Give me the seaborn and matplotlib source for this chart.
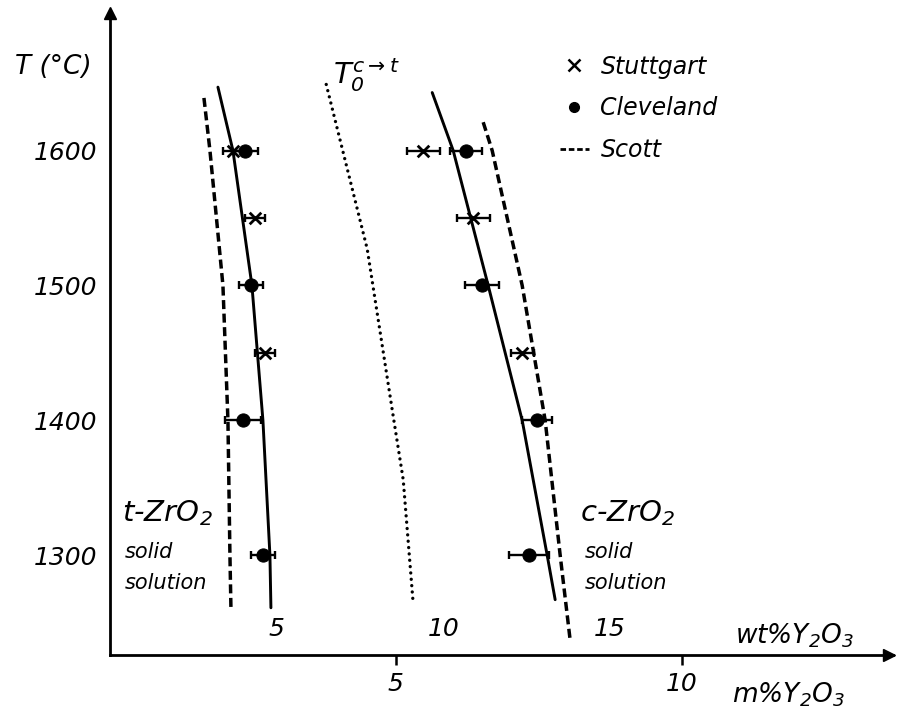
import numpy as np
import pandas as pd
import matplotlib
matplotlib.use("Agg")
import matplotlib.pyplot as plt
from matplotlib.lines import Line2D
import seaborn as sns

# ---------------------------------------------------------------------------
# data (x in wt% Y2O3, y in degC)
# ---------------------------------------------------------------------------
T_T_LINE = [1647, 1600, 1500, 1400, 1300, 1261]
WT_T_LINE = [3.24, 3.69, 4.26, 4.59, 4.80, 4.83]

T_T_SCOTT = [1639, 1600, 1500, 1400, 1300, 1261]
WT_T_SCOTT = [2.82, 3.00, 3.39, 3.54, 3.60, 3.63]

T_T0 = [1649, 1527, 1403, 1356, 1264]
WT_T0 = [6.49, 7.72, 8.50, 8.80, 9.10]

T_C_LINE = [1643, 1600, 1500, 1400, 1300, 1267]
WT_C_LINE = [9.67, 10.30, 11.35, 12.37, 13.12, 13.36]

T_C_SCOTT = [1621, 1600, 1500, 1400, 1300, 1237]
WT_C_SCOTT = [11.20, 11.47, 12.37, 13.06, 13.51, 13.81]

T_STUTT = [1600, 1550, 1450, 1600, 1550, 1450]
WT_STUTT = [3.69, 4.35, 4.65, 9.40, 10.90, 12.37]
ERR_STUTT = [0.30, 0.30, 0.30, 0.50, 0.50, 0.35]

T_CLEV = [1600, 1500, 1400, 1300, 1600, 1500, 1400, 1300]
WT_CLEV = [4.05, 4.23, 3.99, 4.59, 10.69, 11.17, 12.82, 12.58]
ERR_CLEV = [0.40, 0.36, 0.54, 0.36, 0.48, 0.51, 0.45, 0.60]

T_TICKS = [1300, 1400, 1500, 1600]
WT_TICKS = [5, 10, 15]
M_TICKS = [5, 10]
WT_PER_M = 1.716   # wt% per mol% on this axis

sns.set_style("white")
plt.rcParams.update({
    "font.family": ["DejaVu Sans"],
    "font.style": "italic",
    "mathtext.fontset": "dejavusans",
    "mathtext.default": "it",
    "axes.linewidth": 2.0,
    "axes.edgecolor": "black",
    "text.color": "black",
    "axes.labelcolor": "black",
    "xtick.color": "black",
    "ytick.color": "black",
})

fig = plt.figure(figsize=(8.97, 7.2), dpi=100)
ax = fig.add_axes([0.1226, 0.0903, 0.873, 0.8917])

# boundary curves
dash = (0, (2.6, 1.3))
for wt, t, ls, lw in [(WT_T_LINE, T_T_LINE, "-", 2.1),
                      (WT_C_LINE, T_C_LINE, "-", 2.1),
                      (WT_T_SCOTT, T_T_SCOTT, dash, 2.5),
                      (WT_C_SCOTT, T_C_SCOTT, dash, 2.5)]:
    sns.lineplot(x=wt, y=t, sort=False, estimator=None, color="black",
                 linewidth=lw, linestyle=ls, ax=ax)
sns.lineplot(x=WT_T0, y=T_T0, sort=False, estimator=None, color="black",
             linewidth=2.4, linestyle=(0, (0.01, 1.9)), dash_capstyle="round", ax=ax)

# measured points with error bars
ax.errorbar(WT_STUTT, T_STUTT, xerr=ERR_STUTT, fmt="none", ecolor="black",
            elinewidth=1.7, capsize=3, capthick=1.7)
ax.errorbar(WT_CLEV, T_CLEV, xerr=ERR_CLEV, fmt="none", ecolor="black",
            elinewidth=1.7, capsize=3, capthick=1.7)
sns.scatterplot(x=WT_STUTT, y=T_STUTT, marker="x", s=70, color="black",
                linewidth=2, ax=ax, zorder=4)
sns.scatterplot(x=WT_CLEV, y=T_CLEV, marker="o", s=90, color="black",
                edgecolor="black", ax=ax, zorder=4)

# axes
ax.set_xlim(0, 23.5)
ax.set_ylim(1226, 1702)
sns.despine(ax=ax)
ax.plot(0, 1, marker="^", color="black", ms=9, transform=ax.transAxes, clip_on=False)
ax.plot(0.995, 0, marker=">", color="black", ms=9, transform=ax.transAxes, clip_on=False)

ax.set_yticks(T_TICKS)
ax.tick_params(axis="y", direction="out", length=5, width=1.8, labelsize=18, pad=4)
ax.set_xticks(WT_TICKS)
ax.tick_params(axis="x", direction="in", length=7, width=1.8, labelsize=18, pad=-27)

sec = ax.secondary_xaxis("bottom", functions=(lambda w: w / WT_PER_M, lambda m: m * WT_PER_M))
sec.set_xticks(M_TICKS)
sec.tick_params(direction="out", length=7, width=1.8, labelsize=18, pad=5)
sec.spines["bottom"].set_visible(False)

ax.set_xlabel("")
ax.set_ylabel("")

# labels
fig.text(15 / 897, 1 - 67 / 720, "T (°C)", fontsize=19, va="center", ha="left")
ax.text(0.798, 0.03, "wt%Y$_2$O$_3$", fontsize=19, va="center", transform=ax.transAxes)
ax.text(0.794, -0.062, "m%Y$_2$O$_3$", fontsize=19, va="center", transform=ax.transAxes)

ax.text(0.36, 1331, "t-ZrO$_2$", fontsize=21, va="center")
ax.text(0.45, 1302, "solid", fontsize=15, va="center")
ax.text(0.45, 1279, "solution", fontsize=15, va="center")
ax.text(14.11, 1331, "c-ZrO$_2$", fontsize=21, va="center")
ax.text(14.26, 1302, "solid", fontsize=15, va="center")
ax.text(14.26, 1279, "solution", fontsize=15, va="center")
ax.text(6.70, 1656, r"$T_0^{c\rightarrow t}$", fontsize=21, va="center")

handles = [Line2D([], [], marker="x", ls="none", color="black", ms=8, mew=1.8),
           Line2D([], [], marker="o", ls="none", color="black", ms=7),
           Line2D([], [], ls=(0, (2, 1)), color="black", lw=2)]
ax.legend(handles, ["Stuttgart", "Cleveland", "Scott"], loc="upper left",
          bbox_to_anchor=(0.575, 0.935), frameon=False, fontsize=17,
          handlelength=1.2, handletextpad=0.5, labelspacing=0.75,
          borderaxespad=0, borderpad=0)

fig.savefig("out.png", dpi=100)
